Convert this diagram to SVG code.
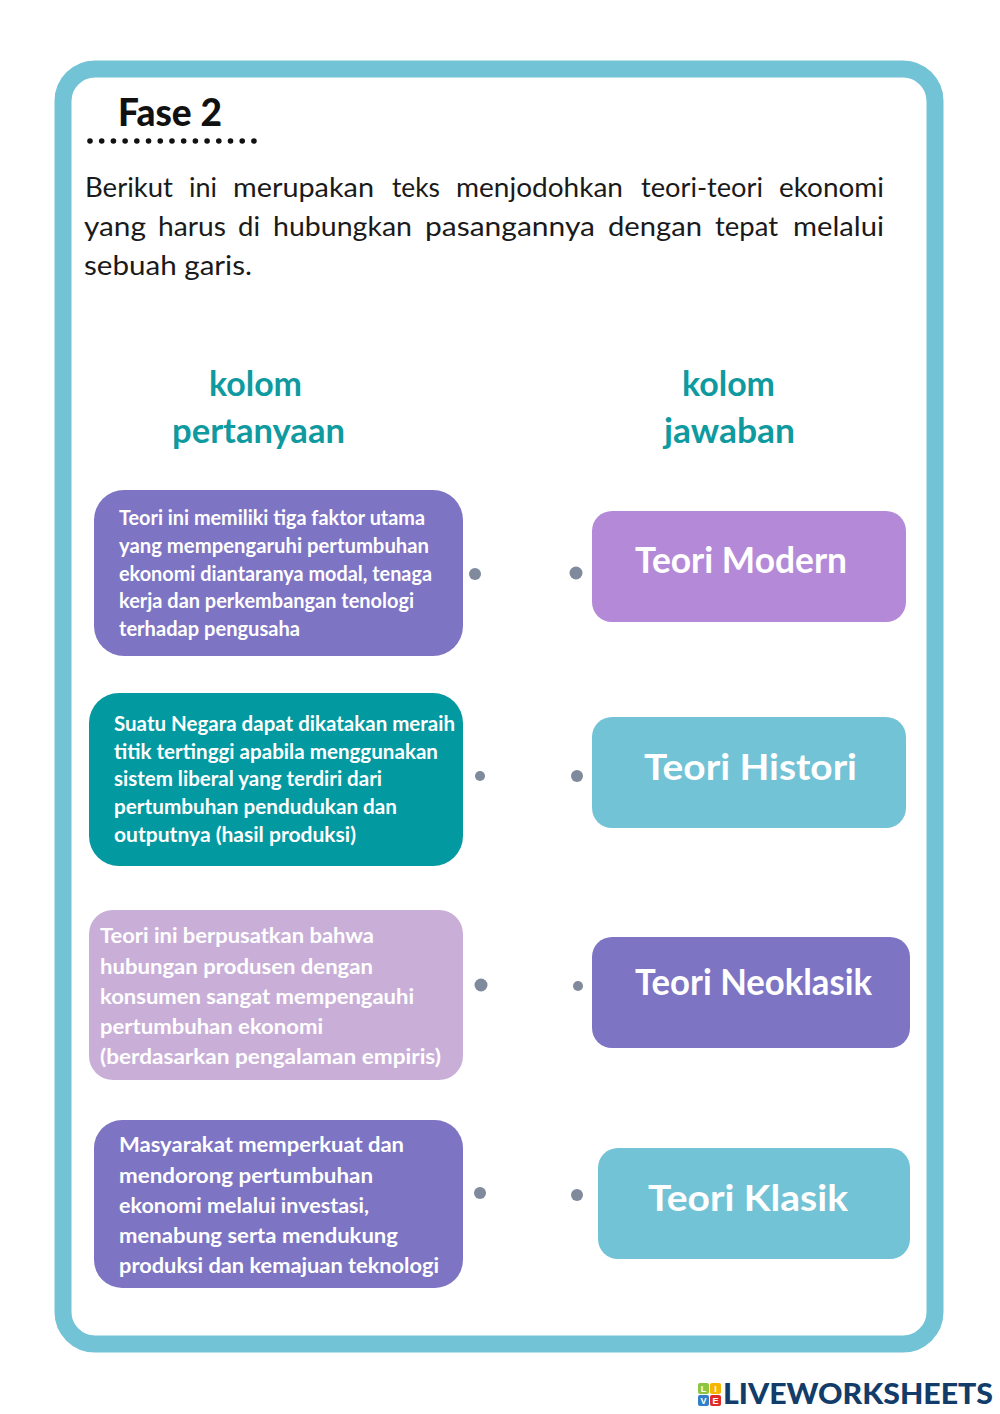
<svg xmlns="http://www.w3.org/2000/svg" width="1000" height="1414" viewBox="0 0 1000 1414">
<style>
.body{font-family:"Lato","Liberation Sans",sans-serif;font-size:26px;fill:#1a1a1a}
.head{font-family:"Lato","Liberation Sans",sans-serif;font-size:35px;font-weight:700;fill:#0e9a9f}
.q{font-family:"Lato","Liberation Sans",sans-serif;font-size:20px;font-weight:700;fill:#fff}
.a{font-family:"Lato","Liberation Sans",sans-serif;font-size:36px;font-weight:700;fill:#fff}
.dot{fill:#7f8a9c}
.lv{font-family:"Liberation Sans",sans-serif;font-size:9px;font-weight:700;fill:#fff;text-anchor:middle}
</style>
<rect width="1000" height="1414" fill="#fff"/>
<rect x="63" y="69" width="872" height="1275" rx="32" fill="#fff" stroke="#72c3d6" stroke-width="17"/>
<text x="118" y="126" font-family="Lato,'Liberation Sans',sans-serif" font-size="38" font-weight="900" fill="#111" textLength="104" lengthAdjust="spacingAndGlyphs">Fase 2</text>
<line x1="90" y1="141" x2="254" y2="141" stroke="#111" stroke-width="5.6" stroke-linecap="round" stroke-dasharray="0 11.71"/>
<text class="body" y="197"><tspan x="85" textLength="88" lengthAdjust="spacingAndGlyphs">Berikut</tspan> <tspan x="189" textLength="28" lengthAdjust="spacingAndGlyphs">ini</tspan> <tspan x="233" textLength="141" lengthAdjust="spacingAndGlyphs">merupakan</tspan> <tspan x="392" textLength="48" lengthAdjust="spacingAndGlyphs">teks</tspan> <tspan x="456" textLength="167" lengthAdjust="spacingAndGlyphs">menjodohkan</tspan> <tspan x="641" textLength="122" lengthAdjust="spacingAndGlyphs">teori-teori</tspan> <tspan x="779" textLength="105" lengthAdjust="spacingAndGlyphs">ekonomi</tspan></text>
<text class="body" y="236"><tspan x="84" textLength="62" lengthAdjust="spacingAndGlyphs">yang</tspan> <tspan x="158" textLength="68" lengthAdjust="spacingAndGlyphs">harus</tspan> <tspan x="238" textLength="22" lengthAdjust="spacingAndGlyphs">di</tspan> <tspan x="273" textLength="139" lengthAdjust="spacingAndGlyphs">hubungkan</tspan> <tspan x="425" textLength="170" lengthAdjust="spacingAndGlyphs">pasangannya</tspan> <tspan x="608" textLength="94" lengthAdjust="spacingAndGlyphs">dengan</tspan> <tspan x="715" textLength="63" lengthAdjust="spacingAndGlyphs">tepat</tspan> <tspan x="793" textLength="91" lengthAdjust="spacingAndGlyphs">melalui</tspan></text>
<text class="body" x="84" y="275" textLength="168" lengthAdjust="spacingAndGlyphs">sebuah garis.</text>
<text class="head" x="209" y="396" textLength="93" lengthAdjust="spacingAndGlyphs">kolom</text>
<text class="head" x="172" y="443" textLength="173" lengthAdjust="spacingAndGlyphs">pertanyaan</text>
<text class="head" x="682" y="396" textLength="93" lengthAdjust="spacingAndGlyphs">kolom</text>
<text class="head" x="664" y="443" textLength="131" lengthAdjust="spacingAndGlyphs">jawaban</text>
<g id="q1"><rect x="94" y="490" width="369" height="166" rx="30" fill="#7e74c4"/>
<text class="q" x="119" y="525" textLength="306" lengthAdjust="spacingAndGlyphs">Teori ini memiliki tiga faktor utama</text>
<text class="q" x="119" y="553" textLength="310" lengthAdjust="spacingAndGlyphs">yang mempengaruhi pertumbuhan</text>
<text class="q" x="119" y="581" textLength="313" lengthAdjust="spacingAndGlyphs">ekonomi diantaranya modal, tenaga</text>
<text class="q" x="119" y="608" textLength="295" lengthAdjust="spacingAndGlyphs">kerja dan perkembangan tenologi</text>
<text class="q" x="119" y="636" textLength="181" lengthAdjust="spacingAndGlyphs">terhadap pengusaha</text></g>
<g id="q2"><rect x="89" y="693" width="374" height="173" rx="30" fill="#0399a1"/>
<text class="q" x="114" y="731" textLength="341" lengthAdjust="spacingAndGlyphs">Suatu Negara dapat dikatakan meraih</text>
<text class="q" x="114" y="759" textLength="324" lengthAdjust="spacingAndGlyphs">titik tertinggi apabila menggunakan</text>
<text class="q" x="114" y="786" textLength="268" lengthAdjust="spacingAndGlyphs">sistem liberal yang terdiri dari</text>
<text class="q" x="114" y="814" textLength="283" lengthAdjust="spacingAndGlyphs">pertumbuhan pendudukan dan</text>
<text class="q" x="114" y="842" textLength="242" lengthAdjust="spacingAndGlyphs">outputnya (hasil produksi)</text></g>
<g id="q3"><rect x="89" y="910" width="374" height="170" rx="24" fill="#c9afd8"/>
<text class="q" x="100" y="943" textLength="274" lengthAdjust="spacingAndGlyphs">Teori ini berpusatkan bahwa</text>
<text class="q" x="100" y="974" textLength="273" lengthAdjust="spacingAndGlyphs">hubungan produsen dengan</text>
<text class="q" x="100" y="1004" textLength="314" lengthAdjust="spacingAndGlyphs">konsumen sangat mempengauhi</text>
<text class="q" x="100" y="1034" textLength="223" lengthAdjust="spacingAndGlyphs">pertumbuhan ekonomi</text>
<text class="q" x="100" y="1064" textLength="341" lengthAdjust="spacingAndGlyphs">(berdasarkan pengalaman empiris)</text></g>
<g id="q4"><rect x="94" y="1120" width="369" height="168" rx="28" fill="#7e74c4"/>
<text class="q" x="119" y="1152" textLength="285" lengthAdjust="spacingAndGlyphs">Masyarakat memperkuat dan</text>
<text class="q" x="119" y="1183" textLength="254" lengthAdjust="spacingAndGlyphs">mendorong pertumbuhan</text>
<text class="q" x="119" y="1213" textLength="250" lengthAdjust="spacingAndGlyphs">ekonomi melalui investasi,</text>
<text class="q" x="119" y="1243" textLength="279" lengthAdjust="spacingAndGlyphs">menabung serta mendukung</text>
<text class="q" x="119" y="1273" textLength="320" lengthAdjust="spacingAndGlyphs">produksi dan kemajuan teknologi</text></g>
<g id="a1"><rect x="592" y="511" width="314" height="111" rx="20" fill="#b48ad8"/>
<text class="a" x="635" y="573" textLength="212" lengthAdjust="spacingAndGlyphs">Teori Modern</text></g>
<g id="a2"><rect x="592" y="717" width="314" height="111" rx="20" fill="#72c3d6"/>
<text class="a" x="644" y="780" textLength="213" lengthAdjust="spacingAndGlyphs">Teori Histori</text></g>
<g id="a3"><rect x="592" y="937" width="318" height="111" rx="20" fill="#7e74c4"/>
<text class="a" x="635" y="995" textLength="237" lengthAdjust="spacingAndGlyphs">Teori Neoklasik</text></g>
<g id="a4"><rect x="598" y="1148" width="312" height="111" rx="20" fill="#72c3d6"/>
<text class="a" x="648" y="1211" textLength="200" lengthAdjust="spacingAndGlyphs">Teori Klasik</text></g>
<g id="connectors">
<circle class="dot" cx="475" cy="574" r="6"/><circle class="dot" cx="576" cy="573" r="6.5"/>
<circle class="dot" cx="480" cy="776" r="5"/><circle class="dot" cx="577" cy="776" r="6"/>
<circle class="dot" cx="481" cy="985" r="6.5"/><circle class="dot" cx="578" cy="986" r="5"/>
<circle class="dot" cx="480" cy="1193" r="6"/><circle class="dot" cx="577" cy="1195" r="6"/>
</g>
<g id="logo">
<rect x="698" y="1383" width="11" height="11" rx="2" fill="#8cc63f"/><rect x="710" y="1383" width="11" height="11" rx="2" fill="#f7b500"/>
<rect x="698" y="1395" width="11" height="11" rx="2" fill="#2f80c8"/><rect x="710" y="1395" width="11" height="11" rx="2" fill="#e02b2b"/>
<text class="lv" x="703.5" y="1392">L</text><text class="lv" x="715.5" y="1392">I</text><text class="lv" x="703.5" y="1404">V</text><text class="lv" x="715.5" y="1404">E</text>
<text x="723" y="1404" font-family="Lato,'Liberation Sans',sans-serif" font-size="29" font-weight="900" fill="#123c69" textLength="270" lengthAdjust="spacingAndGlyphs">LIVEWORKSHEETS</text>
</g>
</svg>
